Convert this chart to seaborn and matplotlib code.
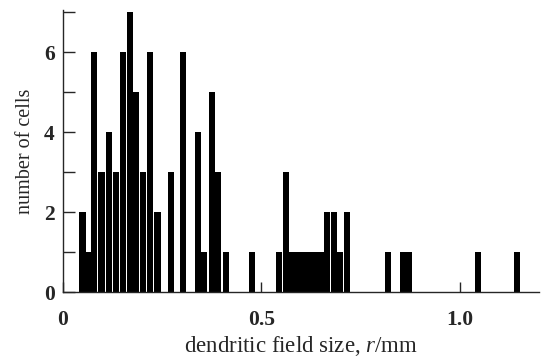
import numpy as np
import pandas as pd
import seaborn as sns
import matplotlib
matplotlib.use("Agg")
import matplotlib.pyplot as plt

# dendritic field sizes (mm) and number of cells
field_size = [0.049, 0.064, 0.079, 0.097, 0.117, 0.134, 0.152, 0.168, 0.184, 0.201,
              0.219, 0.238, 0.272, 0.302, 0.341, 0.356, 0.375, 0.391, 0.410, 0.476,
              0.545, 0.562, 0.577, 0.592, 0.607, 0.622, 0.636, 0.649, 0.665, 0.682,
              0.698, 0.716, 0.819, 0.856, 0.872, 1.045, 1.145]
n_cells = [2, 1, 6, 3, 4, 3, 6, 7, 5, 3,
           6, 2, 3, 6, 4, 1, 5, 3, 1, 1,
           1, 3, 1, 1, 1, 1, 1, 1, 2, 2,
           1, 2, 1, 1, 1, 1, 1]
xtick_vals = [0, 0.5, 1.0]
xtick_labels = ["0", "0.5", "1.0"]
ytick_vals = [0, 2, 4, 6]
ytick_labels = ["0", "2", "4", "6"]

df = pd.DataFrame({"r": field_size, "n": n_cells})

sns.set_style("ticks")
plt.rcParams["font.family"] = ["Liberation Serif", "DejaVu Serif"]
plt.rcParams["mathtext.fontset"] = "custom"
plt.rcParams["mathtext.it"] = "Liberation Serif:italic"
plt.rcParams["mathtext.rm"] = "Liberation Serif"

fig = plt.figure(figsize=(5.43, 3.61), dpi=100)
ax = fig.add_axes([0.116, 0.191, 0.877, 0.781])

bar_w = 0.0155
min_gap = np.diff(np.unique(df["r"])).min()
sns.barplot(data=df, x="r", y="n", native_scale=True, width=bar_w / min_gap,
            color="black", saturation=1, errorbar=None, linewidth=0, ax=ax)

ax.set_xlim(0, 1.2)
ax.set_ylim(0, 7.05)
sns.despine(ax=ax)
ax.spines["left"].set_linewidth(1.0)
ax.spines["bottom"].set_linewidth(1.0)

ax.set_xticks(xtick_vals)
ax.set_xticklabels(xtick_labels, fontweight="bold", fontsize=15.5)
ax.set_yticks(ytick_vals)
ax.set_yticklabels(ytick_labels, fontweight="bold", fontsize=15.5)
ax.set_yticks([1, 3, 5, 7], minor=True)
ax.tick_params(axis="y", which="both", direction="in", length=8.5, width=1, pad=6)
ax.tick_params(axis="x", which="major", direction="in", length=7, width=1, pad=13)

ax.set_xlabel("dendritic field size, $r$/mm", fontsize=16.5, labelpad=3)
ax.set_ylabel("number of cells", fontsize=14.5, labelpad=6)

fig.savefig("out.png", dpi=100)
